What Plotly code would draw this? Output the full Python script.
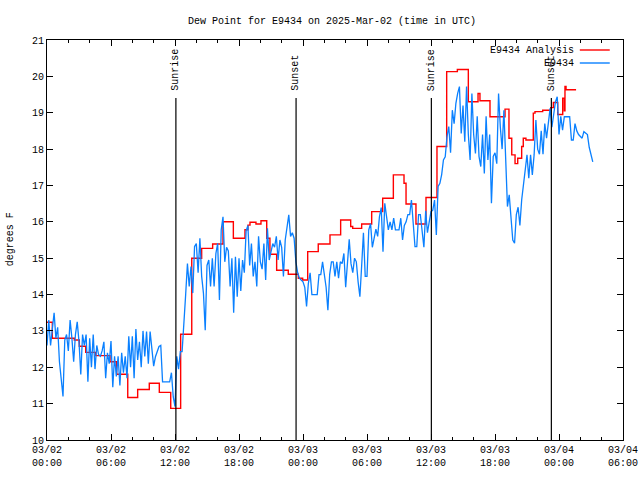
import pandas as pd
import plotly.graph_objects as go

START = pd.Timestamp("2025-03-02 00:00")
X_END_HOURS = 54

# Observed dew point (E9434), 10-minute samples, one row per hour starting 03/02 00:00
blue_rows = [
    [12.6, 13.3, 12.6, 13.0, 13.5, 12.8],
    [13.1, 12.15, 11.7, 11.2, 12.75, 12.9],
    [12.45, 13.3, 12.8, 12.15, 12.9, 13.25],
    [12.7, 11.8, 12.9, 12.6, 12.9, 11.6],
    [12.8, 12.0, 12.9, 11.95, 12.6, 12.35],
    [12.3, 12.45, 12.7, 11.7, 12.4, 12.1],
    [12.72, 11.45, 12.3, 11.75, 12.3, 11.5],
    [12.4, 11.85, 12.3, 11.7, 12.85, 12.0],
    [12.85, 11.7, 13.05, 12.2, 12.7, 12.0],
    [13.0, 12.3, 12.98, 12.1, 12.98, 12.47],
    [12.03, 12.29, 12.45, 12.57, 12.6, 11.6],
    [11.6, 11.6, 11.6, 11.6, 11.85, 11.19],
    [10.92, 12.3, 11.95, 12.43, 12.43, 13.4],
    [14.0, 14.85, 14.22, 14.77, 14.04, 15.32],
    [15.4, 14.6, 15.55, 14.5, 14.04, 13.02],
    [14.8, 14.95, 14.22, 15.0, 14.22, 15.13],
    [15.41, 13.85, 15.78, 16.14, 14.9, 15.3],
    [15.2, 14.22, 15.0, 13.5, 15.04, 13.94],
    [15.0, 14.1, 14.95, 14.6, 15.75, 15.9],
    [14.8, 15.4, 14.5, 14.9, 14.22, 15.6],
    [14.9, 14.7, 15.4, 14.4, 15.82, 14.95],
    [15.2, 15.4, 15.3, 15.6, 14.95, 15.5],
    [15.3, 14.5, 15.5, 15.9, 16.19, 15.6],
    [15.7, 15.55, 14.9, 14.6, 14.45, 14.4],
    [14.35, 14.2, 13.67, 14.3, 14.6, 14.0],
    [14.0, 14.0, 14.0, 14.55, 14.55, 14.9],
    [14.55, 14.2, 13.57, 14.55, 14.9, 14.9],
    [14.5, 14.9, 14.45, 14.9, 14.85, 15.13],
    [14.2, 14.9, 15.52, 14.85, 14.6, 15.0],
    [14.9, 14.35, 13.94, 14.8, 15.7, 14.5],
    [14.5, 15.78, 15.95, 15.3, 15.6, 15.8],
    [15.6, 16.14, 16.39, 15.18, 16.51, 16.1],
    [15.78, 16.0, 15.78, 16.1, 15.78, 15.78],
    [15.78, 16.1, 15.5, 15.9, 16.0, 16.2],
    [16.2, 16.6, 16.0, 15.32, 15.32, 16.2],
    [16.2, 15.8, 15.3, 16.3, 15.7, 16.0],
    [16.28, 16.32, 16.6, 15.64, 16.97, 17.06],
    [17.3, 17.7, 17.79, 18.34, 18.62, 17.9],
    [19.07, 18.7, 19.26, 19.53, 19.72, 18.43],
    [19.2, 18.2, 19.72, 18.4, 17.7, 19.53],
    [18.4, 17.88, 18.9, 17.8, 17.52, 18.4],
    [17.33, 18.9, 17.7, 18.4, 16.51, 17.8],
    [17.9, 17.6, 19.53, 18.6, 18.0, 19.07],
    [17.9, 16.42, 16.74, 16.0, 15.5, 15.41],
    [16.2, 16.4, 15.9, 16.6, 16.97, 17.42],
    [17.84, 17.2, 17.84, 17.29, 17.84, 18.8],
    [18.0, 17.86, 18.5, 17.86, 18.7, 18.3],
    [18.8, 19.12, 18.6, 18.9, 19.3, 19.44],
    [18.4, 18.9, 18.52, 18.89, 18.89, 18.89],
    [18.89, 18.25, 18.25, 18.7, 18.5, 18.4],
    [18.34, 18.3, 18.48, 18.45, 18.4, 18.05],
    [17.8, 17.65],
]
BLUE_STEP_MIN = 10

# Analysis (step function): hour offsets where each level starts, and the level
red_hours = [0.0, 0.5, 2.56, 3.03, 3.63, 4.57, 5.91, 6.53, 7.57, 8.5,
             9.59, 10.53, 11.6, 12.53, 13.57, 14.5, 15.53, 16.5, 17.47, 18.56,
             18.84, 19.03, 19.59, 20.06, 20.6, 20.9, 21.53, 22.62, 23.56, 23.97,
             24.44, 25.43, 26.53, 27.53, 28.47, 28.66, 29.5, 30.44, 31.47, 32.47,
             33.47, 33.66, 34.59, 35.53, 36.56, 37.47, 38.47, 39.5, 40.41, 40.59,
             41.53, 42.94, 43.31, 43.57, 43.88, 44.13, 44.5, 44.65, 44.9, 45.59,
             45.75, 46.47, 47.22, 47.47, 47.88, 48.35, 48.5, 48.56, 48.66]
red_values = [13.24, 12.8, 12.75, 12.58, 12.41, 12.32, 12.15, 11.81, 11.17, 11.39,
              11.56, 11.31, 10.87, 12.91, 15.0, 15.27, 15.39, 16.0, 15.55, 15.78,
              15.91, 15.99, 15.94, 16.03, 15.55, 15.11, 14.67, 14.56, 14.45, 14.4,
              15.18, 15.39, 15.64, 16.05, 15.87, 15.82, 15.94, 16.28, 16.65, 17.29,
              17.06, 16.49, 15.94, 16.67, 18.07, 20.13, 20.19, 19.3, 19.53, 19.33,
              18.89, 19.1, 18.3, 17.84, 17.6, 17.75, 18.07, 18.3, 18.25, 18.99,
              19.03, 19.07, 19.14, 19.28, 18.95, 19.4, 19.05, 19.72, 19.63]
red_end_hour = 49.6

sun_labels = ["Sunrise", "Sunset", "Sunrise", "Sunset"]
sun_times = ["2025-03-02 12:05", "2025-03-02 23:21", "2025-03-03 12:02", "2025-03-03 23:17"]

title_text = "Dew Point for E9434 on 2025-Mar-02 (time in UTC)"
y_title = "degrees F"
series_names = ["E9434 Analysis", "E9434"]
colors = ["#ff0000", "#0a80ff"]

FONT = "Liberation Mono"
FS = 10

blue_values = [v for row in blue_rows for v in row]
blue_times = [START + pd.Timedelta(minutes=BLUE_STEP_MIN * i) for i in range(len(blue_values))]
red_x = [START + pd.Timedelta(hours=h) for h in red_hours + [red_end_hour]]
red_y = red_values + [red_values[-1]]

fig = go.Figure()
fig.add_trace(go.Scatter(x=red_x, y=red_y, mode="lines", line=dict(color=colors[0], width=1.4, shape="hv"),
                         name=series_names[0], showlegend=False))
fig.add_trace(go.Scatter(x=blue_times, y=blue_values, mode="lines", line=dict(color=colors[1], width=1.3),
                         name=series_names[1], showlegend=False))

shapes = []
annotations = []
for lab, t in zip(sun_labels, sun_times):
    shapes.append(dict(type="line", xref="x", yref="paper", x0=t, x1=t, y0=0, y1=0.855,
                       line=dict(color="black", width=1.2)))
    annotations.append(dict(x=t, y=0.868, xref="x", yref="paper", text=lab, showarrow=False,
                            textangle=-90, xanchor="center", yanchor="bottom",
                            font=dict(family=FONT, size=FS, color="black")))

# gnuplot-style key, top right
key_y = [0.975, 0.9425]
for name, col, ky in zip(series_names, colors, key_y):
    annotations.append(dict(x=0.918, y=ky, xref="paper", yref="paper", text=name, showarrow=False,
                            xanchor="right", yanchor="middle", font=dict(family=FONT, size=FS, color="black")))
    shapes.append(dict(type="line", xref="paper", yref="paper", x0=0.925, x1=0.977, y0=ky, y1=ky,
                       line=dict(color=col, width=1.4)))

annotations.append(dict(x=-0.064, y=0.5025, xref="paper", yref="paper", text=y_title, showarrow=False,
                        textangle=-90, xanchor="center", yanchor="middle",
                        font=dict(family=FONT, size=FS, color="black")))

fig.update_layout(
    width=640, height=480,
    margin=dict(l=47, r=17, t=40, b=40, autoexpand=False),
    paper_bgcolor="white", plot_bgcolor="white",
    title=dict(text=title_text, x=332 / 640, xref="container", xanchor="center",
               y=1 - 20 / 480, yref="container", yanchor="middle",
               font=dict(family=FONT, size=FS, color="black")),
    shapes=shapes, annotations=annotations,
    showlegend=False,
)
fig.update_xaxes(
    type="date", automargin=False,
    range=[START, START + pd.Timedelta(hours=X_END_HOURS)],
    tick0=START, dtick=6 * 3600 * 1000,
    tickformat="%m/%d<br>%H:%M",
    ticks="inside", ticklen=6, tickcolor="black",
    minor=dict(dtick=2 * 3600 * 1000, ticks="inside", ticklen=3, tickcolor="black"),
    showline=True, linecolor="black", linewidth=1, mirror="ticks",
    showgrid=False, zeroline=False,
    tickfont=dict(family=FONT, size=FS, color="black"),
)
fig.update_yaxes(
    range=[10, 21], dtick=1, tick0=10, automargin=False,
    ticks="inside", ticklen=6, tickcolor="black",
    showline=True, linecolor="black", linewidth=1, mirror="ticks",
    showgrid=False, zeroline=False,
    tickfont=dict(family=FONT, size=FS, color="black"),
)

fig.write_html("out.html", config={"displayModeBar": False},
               post_script="document.body.style.margin='0';")
